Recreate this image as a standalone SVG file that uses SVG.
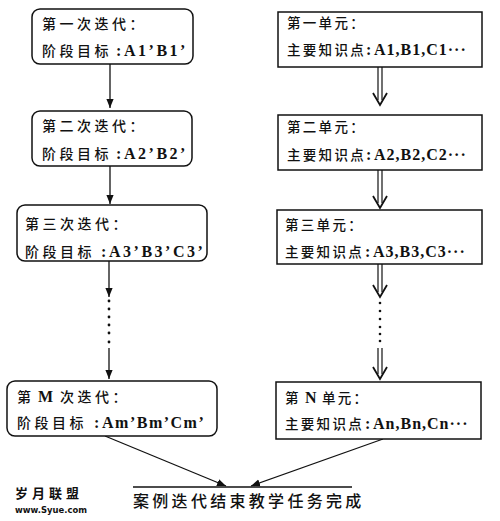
<svg xmlns="http://www.w3.org/2000/svg" width="500" height="521" viewBox="0 0 500 521">
<style>
.box{fill:#fff;stroke:#111;stroke-width:1.5}
.cn{font-family:"Noto Sans CJK SC","Noto Sans CJK TC",sans-serif;font-size:14px;font-weight:500;fill:#111;letter-spacing:3.5px}
.cnr{font-family:"Noto Sans CJK SC","Noto Sans CJK TC",sans-serif;font-size:13.5px;font-weight:500;fill:#111;letter-spacing:2.3px}
.lat{font-family:"Liberation Serif",serif;font-weight:bold;font-size:16px;fill:#111}
.ln{stroke:#111;stroke-width:1.3;fill:none}
.dl{stroke:#111;stroke-width:1.2;fill:none}
.v{stroke:#111;stroke-width:1.8;fill:none}
.dot{fill:#111}
.bt{font-family:"Noto Sans CJK SC","Noto Sans CJK TC",sans-serif;font-size:16px;font-weight:500;fill:#111;letter-spacing:3.3px}
.wm{font-family:"Noto Sans CJK SC",sans-serif;font-weight:bold;font-size:13px;fill:#111;letter-spacing:4px}
.wu{font-family:"DejaVu Sans",sans-serif;font-weight:bold;font-size:9px;fill:#111}
</style>
<defs>
<marker id="ah" viewBox="0 -4 9 8" refX="9" refY="0" markerWidth="9" markerHeight="8" markerUnits="userSpaceOnUse" orient="auto">
<path d="M0,-3.6 L9,0 L0,3.6 z" fill="#111"/>
</marker>
</defs>

<g id="connectors">
<line class="ln" x1="110" y1="64" x2="110" y2="108" marker-end="url(#ah)"/>
<line class="ln" x1="110" y1="166" x2="110" y2="204" marker-end="url(#ah)"/>
<line class="ln" x1="109" y1="261" x2="109" y2="297" marker-end="url(#ah)"/>
<g class="dot">
<circle cx="109" cy="301" r="1.4"/><circle cx="109" cy="309" r="1.4"/><circle cx="109" cy="317" r="1.4"/><circle cx="109" cy="325" r="1.4"/><circle cx="109" cy="333" r="1.4"/><circle cx="109" cy="342" r="1.4"/>
</g>
<line class="ln" x1="109" y1="348" x2="109" y2="379" marker-end="url(#ah)"/>

<g id="dbl1"><line class="dl" x1="378" y1="67" x2="378" y2="100"/><line class="dl" x1="382" y1="67" x2="382" y2="100"/><polyline class="v" points="373,93 380,105 387,93"/></g>
<g id="dbl2"><line class="dl" x1="378" y1="170" x2="378" y2="203"/><line class="dl" x1="382" y1="170" x2="382" y2="203"/><polyline class="v" points="373,196 380,208 387,196"/></g>
<g id="dbl3"><line class="dl" x1="378" y1="264" x2="378" y2="292"/><line class="dl" x1="382" y1="264" x2="382" y2="292"/><polyline class="v" points="373,285 380,297 387,285"/></g>
<g class="dot">
<circle cx="380" cy="303" r="1.3"/><circle cx="380" cy="311" r="1.3"/><circle cx="380" cy="319" r="1.3"/><circle cx="380" cy="327" r="1.3"/><circle cx="380" cy="334" r="1.3"/><circle cx="380" cy="341" r="1.3"/>
</g>
<g id="dbl4"><line class="dl" x1="378" y1="348" x2="378" y2="374"/><line class="dl" x1="382" y1="348" x2="382" y2="374"/><polyline class="v" points="373,367 380,379 387,367"/></g>

<line class="ln" x1="105" y1="436" x2="226" y2="486" marker-end="url(#ah)"/>
<line class="ln" x1="383" y1="439" x2="251" y2="486" marker-end="url(#ah)"/>
<line class="ln" x1="133" y1="487" x2="352" y2="487"/>
</g>

<g id="iter1">
<rect class="box" x="32" y="9" width="161" height="55" rx="8"/>
<text class="cn" x="42" y="29">第一次迭代：</text>
<text x="42" y="56"><tspan class="cn">阶段目标</tspan><tspan class="lat" x="116">:</tspan><tspan class="lat" x="124" letter-spacing="2.5">A1’B1’</tspan></text>
</g>
<g id="iter2">
<rect class="box" x="32" y="111" width="160" height="55" rx="8"/>
<text class="cn" x="42" y="131">第二次迭代：</text>
<text x="42" y="159"><tspan class="cn">阶段目标</tspan><tspan class="lat" x="116">:</tspan><tspan class="lat" x="124" letter-spacing="2.5">A2’B2’</tspan></text>
</g>
<g id="iter3">
<rect class="box" x="17" y="205" width="190" height="56" rx="8"/>
<text class="cn" x="25" y="229">第三次迭代：</text>
<text x="25" y="257"><tspan class="cn">阶段目标</tspan><tspan class="lat" x="101">:</tspan><tspan class="lat" x="109" letter-spacing="2.5">A3’B3’C3’</tspan></text>
</g>
<g id="iterM">
<rect class="box" x="7" y="381" width="210" height="55" rx="8"/>
<text x="17" y="402"><tspan class="cn">第</tspan><tspan class="lat" font-size="17" x="38">M</tspan><tspan class="cn" x="60">次迭代：</tspan></text>
<text x="17" y="428"><tspan class="cn">阶段目标</tspan><tspan class="lat" x="94" font-size="17">:</tspan><tspan class="lat" x="102" font-size="18" letter-spacing="1.5">Am’Bm’Cm’</tspan></text>
</g>

<g id="unit1">
<rect class="box" x="278" y="12" width="204" height="55"/>
<text class="cnr" x="287" y="28">第一单元：</text>
<text x="287" y="55"><tspan class="cnr">主要知识点</tspan><tspan class="lat" x="366">:</tspan><tspan class="lat" x="374" font-size="17" letter-spacing="1">A1,B1,C1···</tspan></text>
</g>
<g id="unit2">
<rect class="box" x="278" y="115" width="204" height="55"/>
<text class="cnr" x="287" y="132">第二单元：</text>
<text x="287" y="160"><tspan class="cnr">主要知识点</tspan><tspan class="lat" x="366">:</tspan><tspan class="lat" x="374" font-size="17" letter-spacing="1">A2,B2,C2···</tspan></text>
</g>
<g id="unit3">
<rect class="box" x="277" y="210" width="205" height="54"/>
<text class="cnr" x="285" y="230">第三单元：</text>
<text x="285" y="257"><tspan class="cnr">主要知识点</tspan><tspan class="lat" x="365">:</tspan><tspan class="lat" x="373" font-size="17" letter-spacing="1">A3,B3,C3···</tspan></text>
</g>
<g id="unitN">
<rect class="box" x="276" y="382" width="205" height="57"/>
<text x="285" y="403"><tspan class="cnr">第</tspan><tspan class="lat" x="305">N</tspan><tspan class="cnr" x="322">单元：</tspan></text>
<text x="285" y="429"><tspan class="cnr">主要知识点</tspan><tspan class="lat" x="365">:</tspan><tspan class="lat" x="373" font-size="17" letter-spacing="1">An,Bn,Cn···</tspan></text>
</g>

<g id="end">
<text class="bt" x="133" y="507">案例迭代结束教学任务完成</text>
</g>

<g id="watermark">
<text class="wm" x="15" y="498">岁月联盟</text>
<text class="wu" x="15" y="513" textLength="72" lengthAdjust="spacingAndGlyphs">www.Syue.com</text>
</g>
</svg>
